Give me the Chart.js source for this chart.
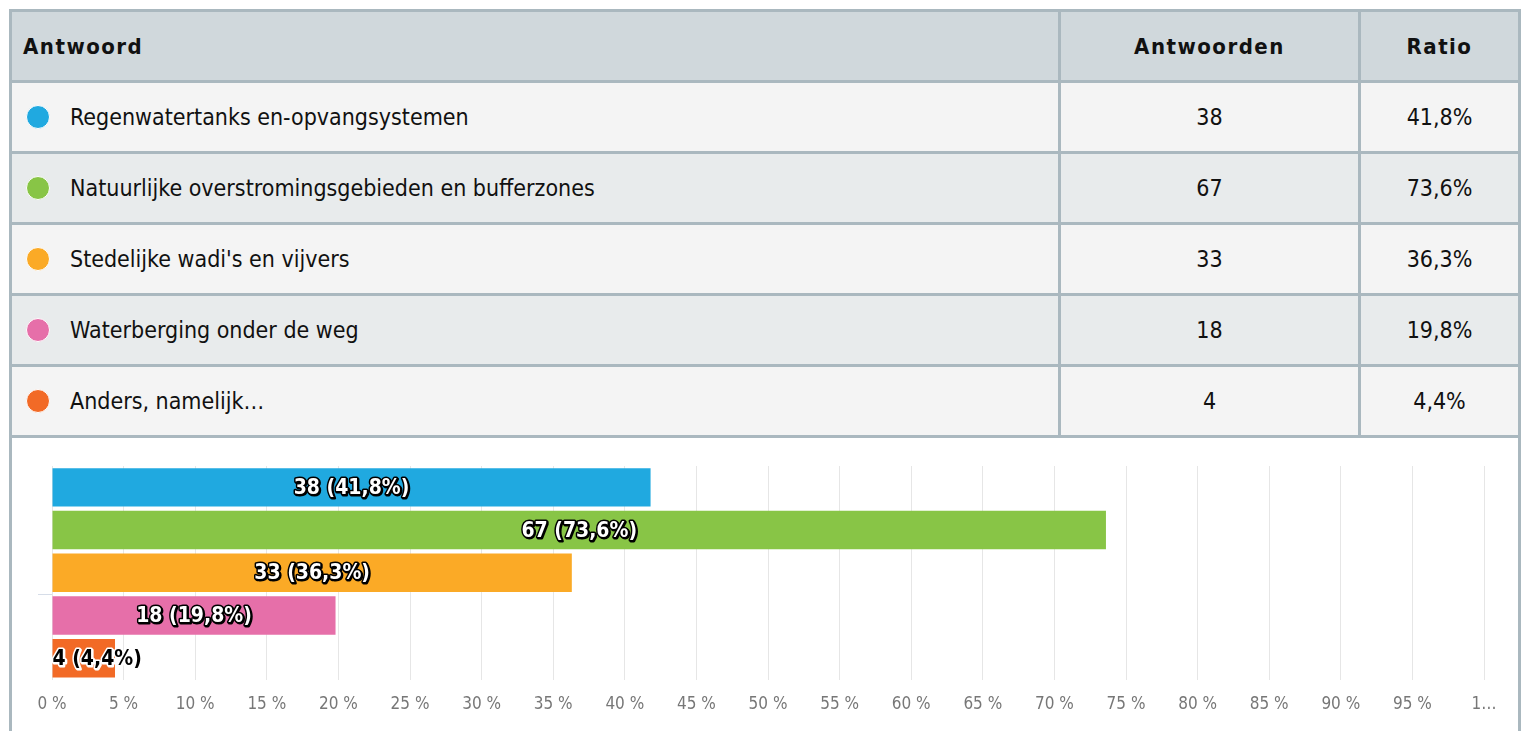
<!DOCTYPE html>
<html>
<head>
<meta charset="utf-8">
<script src="https://cdn.jsdelivr.net/npm/chart.js@4/dist/chart.umd.min.js"></script>
<style>
  html, body { margin: 0; padding: 0; background: #fff; }
  body { width: 1523px; height: 731px; overflow: hidden; position: relative;
         font-family: "DejaVu Sans Condensed", sans-serif; }
  #box { position: absolute; left: 9px; top: 9px; width: 1506px; height: 760px;
         border: 3px solid #aab8bf; border-bottom: none; }
  table { border-collapse: collapse; width: 1512px; margin: -3px 0 0 -3px; }
  th, td { border: 3px solid #aab8bf; height: 68px; font-size: 23px; color: #111; padding: 0; }
  th { background: #d0d8dc; font-weight: bold; font-size: 22px; letter-spacing: 1.5px; }
  th.first { text-align: left; padding-left: 11px; }
  tr.odd td { background: #f4f4f4; }
  tr.even td { background: #e8ebec; }
  td.num { text-align: center; }
  td.lbl { padding-left: 58px; position: relative; }
  .dot { position: absolute; left: 14px; top: 50%; margin-top: -12px; width: 22px; height: 22px;
         border-radius: 50%; border: 1px solid #fff; }
  #chartWrap { position: absolute; left: 0; top: 425px; width: 1506px; height: 300px; }
</style>
</head>
<body>
<div id="box">
  <table id="tbl">
    <thead>
      <tr><th class="first">Antwoord</th><th style="width:297px">Antwoorden</th><th style="width:157px">Ratio</th></tr>
    </thead>
    <tbody id="tbody"></tbody>
  </table>
  <div id="chartWrap"><canvas id="chart"></canvas></div>
</div>
<script>
// ---------------------- Data ----------------------
const answers = [
  "Regenwatertanks en-opvangsystemen",
  "Natuurlijke overstromingsgebieden en bufferzones",
  "Stedelijke wadi's en vijvers",
  "Waterberging onder de weg",
  "Anders, namelijk..."
];
const counts = [38, 67, 33, 18, 4];
const ratios = [41.8, 73.6, 36.3, 19.8, 4.4];
const colors = ["#20a9e0", "#88c546", "#fbaa26", "#e66fa9", "#f26a26"];
const tickPercents = [0, 5, 10, 15, 20, 25, 30, 35, 40, 45, 50, 55, 60, 65, 70, 75, 80, 85, 90, 95, 100];

const fmt = v => v.toFixed(1).replace(".", ",");

// ---------------------- Table ----------------------
const tbody = document.getElementById("tbody");
answers.forEach((a, i) => {
  const tr = document.createElement("tr");
  tr.className = i % 2 === 0 ? "odd" : "even";
  const label = a === "Anders, namelijk..." ? "Anders, namelijk\u2026" : a;
  tr.innerHTML =
    `<td class="lbl"><span class="dot" style="background:${colors[i]}"></span>${label}</td>` +
    `<td class="num">${counts[i]}</td>` +
    `<td class="num">${fmt(ratios[i])}%</td>`;
  tbody.appendChild(tr);
});

// ---------------------- Bar labels ----------------------
const barLabels = {
  id: "barLabels",
  afterDatasetsDraw(chart) {
    const ctx = chart.ctx;
    const meta = chart.getDatasetMeta(0);
    ctx.save();
    ctx.font = "bold 21px 'DejaVu Sans Condensed', sans-serif";
    ctx.textBaseline = "middle";
    ctx.lineJoin = "round";
    meta.data.forEach((bar, i) => {
      const text = `${counts[i]} (${fmt(ratios[i])}%)`;
      const w = ctx.measureText(text).width;
      const barW = bar.x - bar.base;
      let x, fill, stroke;
      if (w + 6 < barW) {
        ctx.textAlign = "center";
        x = bar.base + barW / 2;
        fill = "#fff"; stroke = "#000";
      } else {
        ctx.textAlign = "left";
        x = bar.base;
        fill = "#000"; stroke = "#fff";
      }
      ctx.lineWidth = 3;
      ctx.strokeStyle = stroke;
      ctx.strokeText(text, x + 1, bar.y + 2);
      ctx.strokeText(text, x, bar.y + 1);
      ctx.fillStyle = fill;
      ctx.fillText(text, x, bar.y + 1);
    });
    ctx.restore();
  }
};

// ---------------------- Chart ----------------------
new Chart(document.getElementById("chart"), {
  type: "bar",
  data: {
    labels: answers,
    datasets: [{
      data: ratios,
      backgroundColor: colors,
      borderWidth: 0,
      barPercentage: 0.9,
      categoryPercentage: 1
    }]
  },
  options: {
    indexAxis: "y",
    responsive: true,
    maintainAspectRatio: false,
    animation: false,
    layout: { padding: { left: 26, right: 34, top: 29, bottom: 7 } },
    plugins: { legend: { display: false }, tooltip: { enabled: false } },
    scales: {
      x: {
        min: 0,
        max: 100,
        afterBuildTicks: axis => { axis.ticks = tickPercents.map(v => ({ value: v })); },
        ticks: {
          color: "#777",
          font: { family: "'DejaVu Sans Condensed', sans-serif", size: 17 },
          padding: 15,
          maxRotation: 0,
          autoSkip: false,
          callback: v => v === 100 ? "1\u2026" : `${v} %`
        },
        grid: { color: "#e6e6e6", drawTicks: false },
        border: { display: false }
      },
      y: {
        ticks: { display: false },
        grid: {
          drawOnChartArea: false,
          tickLength: 14,
          color: (c) => c.index === 3 ? "#d6dde8" : "rgba(0,0,0,0)"
        },
        border: { display: false }
      }
    }
  },
  plugins: [barLabels]
});
</script>
</body>
</html>
